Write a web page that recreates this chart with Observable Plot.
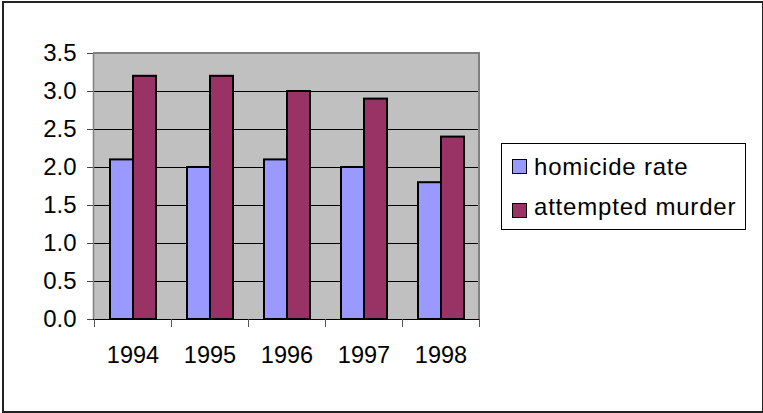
<!DOCTYPE html>
<html>
<head>
<meta charset="utf-8">
<script src="https://cdn.jsdelivr.net/npm/d3@7"></script>
<script src="https://cdn.jsdelivr.net/npm/@observablehq/plot@0.6"></script>
<style>
  html, body { margin: 0; padding: 0; background: #fff; overflow: hidden; }
  #wrap { position: relative; width: 763px; height: 413px; font-family: Arial, "Liberation Sans", sans-serif; }
  #border { position: absolute; left: 2px; top: 1px; width: 758px; height: 408px; border: 2px solid #222; pointer-events: none; }
  #legend { position: absolute; left: 501px; top: 143px; width: 243px; height: 85px; border: 1px solid #000; background: #fff; }
  .sw { position: absolute; left: 10px; width: 13px; height: 13px; border: 1px solid #000; }
  .tx { position: absolute; left: 32px; font-size: 24px; line-height: 24px; letter-spacing: 0.8px; color: #000; white-space: nowrap; }
  svg { position: absolute; left: 0; top: 0; }
</style>
</head>
<body>
<div id="wrap"></div>
<script>
(function () {
const years = ["1994", "1995", "1996", "1997", "1998"];
const homicideRate = [2.1, 2.0, 2.1, 2.0, 1.8];
const attemptedMurder = [3.2, 3.2, 3.0, 2.9, 2.4];
const seriesNames = ["homicide rate", "attempted murder"];
const seriesColors = ["#9999ff", "#993366"];
const yTicks = [0, 0.5, 1.0, 1.5, 2.0, 2.5, 3.0, 3.5];

const data = years.flatMap((yr, i) => [
  {year: yr, series: seriesNames[0], value: homicideRate[i]},
  {year: yr, series: seriesNames[1], value: attemptedMurder[i]}
]);

const fmt = d => d.toFixed(1);

const chart = Plot.plot({
  width: 763,
  height: 413,
  marginLeft: 93,
  marginRight: 284,
  marginTop: 53,
  marginBottom: 94,
  style: {fontFamily: "Arial, 'Liberation Sans', sans-serif", fontSize: "23px", color: "#000", background: "transparent", overflow: "visible"},
  fx: {domain: years, padding: 0, label: null},
  x: {domain: seriesNames, paddingInner: 0, paddingOuter: 0.66, axis: null},
  y: {domain: [0, 3.5], label: null},
  color: {domain: seriesNames, range: seriesColors},
  marks: [
    Plot.gridY(yTicks, {stroke: "#000", strokeOpacity: 1, strokeWidth: 1}),
    Plot.barY(data, {fx: "year", x: "series", y: "value", fill: "series", stroke: "#000", strokeWidth: 2}),
    Plot.axisY(yTicks, {tickSize: 7, tickPadding: 11, tickFormat: fmt, label: null, stroke: "#444", fill: "#000", fontSize: 24, letterSpacing: 1.8}),
    Plot.axisFx({anchor: "bottom", tickSize: 0, tickPadding: 27, label: null, fill: "#000", fontSize: 23.5})
  ]
});

// plot-area background, border and category boundary ticks, placed with the chart's own scales
const fx = chart.scale("fx");
const ys = chart.scale("y");
const pLeft = fx.range[0], pRight = fx.range[1];
const pTop = ys.apply(3.5), pBottom = ys.apply(0);
const svg = d3.select(chart);
svg.insert("rect", "g")
  .attr("x", pLeft).attr("y", pTop).attr("width", pRight - pLeft).attr("height", pBottom - pTop)
  .attr("fill", "#c0c0c0");
const g = svg.append("g");
g.append("line").attr("x1", pLeft + 0.5).attr("x2", pLeft + 0.5).attr("y1", pTop).attr("y2", pBottom).attr("stroke", "#808080").attr("stroke-width", 1.5);
g.append("line").attr("x1", pLeft).attr("x2", pRight + 1).attr("y1", pTop).attr("y2", pTop).attr("stroke", "#808080").attr("stroke-width", 2);
g.append("line").attr("x1", pRight).attr("x2", pRight).attr("y1", pTop).attr("y2", pBottom).attr("stroke", "#808080").attr("stroke-width", 2);
g.append("line").attr("x1", pLeft).attr("x2", pRight).attr("y1", pBottom + 0.5).attr("y2", pBottom + 0.5).attr("stroke", "#000").attr("stroke-width", 1);
const bounds = years.map(y => fx.apply(y)).concat([fx.apply(years[years.length - 1]) + fx.bandwidth]);
bounds.forEach(b => {
  g.append("line").attr("x1", Math.round(b) + 0.5).attr("x2", Math.round(b) + 0.5).attr("y1", pBottom).attr("y2", pBottom + 8).attr("stroke", "#555").attr("stroke-width", 1);
});

const wrap = document.getElementById("wrap");
wrap.appendChild(chart);
const border = document.createElement("div");
border.id = "border";
wrap.appendChild(border);

const legend = document.createElement("div");
legend.id = "legend";
seriesNames.forEach((name, i) => {
  const sw = document.createElement("div");
  sw.className = "sw";
  sw.style.top = (i === 0 ? 15 : 59) + "px";
  sw.style.background = seriesColors[i];
  const tx = document.createElement("div");
  tx.className = "tx";
  tx.style.top = (i === 0 ? 11 : 51) + "px";
  tx.textContent = name;
  legend.appendChild(sw);
  legend.appendChild(tx);
});
wrap.appendChild(legend);
})();
</script>
</body>
</html>
